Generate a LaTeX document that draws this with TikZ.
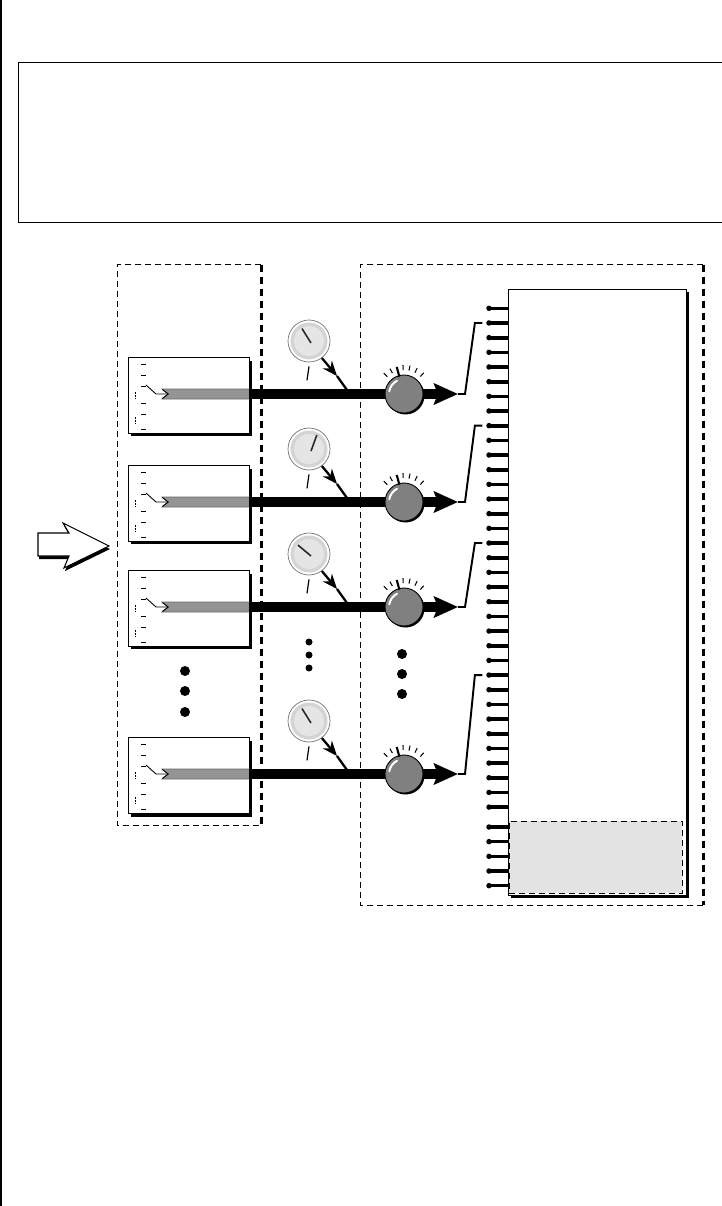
\documentclass[tikz,border=0pt]{standalone}
\usepackage{tikz}
\usetikzlibrary{arrows.meta,shadows}

\begin{document}
\begin{tikzpicture}[
  x=0.02cm, y=-0.02cm,
  plainbox/.style={draw, rectangle, inner sep=0pt, line width=0.5pt},
  thindash/.style={line width=0.5pt, dash pattern=on 0.12cm off 0.08cm},
  dashbox/.style={draw, rectangle, inner sep=0pt, thindash},
  groupbox/.style={rectangle, inner sep=0pt},
  heavydash/.style={line width=1.4pt, dash pattern=on 0.14cm off 0.1cm},
  shadowbox/.style={plainbox, fill=white, drop shadow={shadow xshift=0.06cm, shadow yshift=-0.06cm, opacity=1, fill=black}},
  inbox/.style={shadowbox, minimum width=2.42cm, minimum height=1.52cm},
  dial/.style={draw=black!55, circle, inner sep=0pt, fill=white, line width=0.4pt, minimum size=0.84cm},
  knob/.style={draw, circle, inner sep=0pt, fill=black!50, line width=0.5pt, minimum size=0.76cm},
  blob/.style={fill, circle, inner sep=0pt},
  pindot/.style={blob, minimum size=0.11cm},
  mainbar/.style={line width=0.2cm},
  lever/.style={line width=1.3pt},
  bracket/.style={line width=1.1pt},
  rung/.style={line width=0.5pt},
  graybar/.style={fill=black!42, draw=black!58, line width=0.4pt}
]
\useasboundingbox (0,0) rectangle (722,1206);

\draw[line width=0.04cm] (1,0) -- (1,1206);
\node[plainbox, minimum width=14.08cm, minimum height=3.2cm] (note) at (370,142) {};

\node[groupbox, minimum width=2.86cm, minimum height=11.2cm] (bank) at (189.5,545) {};
\draw[thindash] (bank.north east) -- (bank.north west) -- (bank.south west) -- (bank.south east);
\draw[heavydash] (bank.north east) -- (bank.south east);
\node[groupbox, minimum width=6.84cm, minimum height=12.8cm] (engine) at (532,585) {};
\draw[thindash] (engine.north east) -- (engine.north west) -- (engine.south west) -- (engine.south east);
\draw[heavydash] (engine.north east) -- (engine.south east);

% output pins
\foreach \i in {0,...,39} {
  \pgfmathsetmacro{\pinY}{\i<35 ? 308.3+14.67*\i : 827+14.67*(\i-35)}
  \pgfmathsetmacro{\pinW}{mod(\i,3)==2 ? 0.085 : 0.065}
  \node[pindot] (pin\i) at (489,\pinY) {};
  \draw[line width=\pinW cm] (pin\i.center) -- (508,\pinY);
}
\node[shadowbox, minimum width=3.56cm, minimum height=12.12cm] (outs) at (597,592) {};
\node[dashbox, fill=black!11, minimum width=3.46cm, minimum height=1.44cm] (spare) at (595.5,857) {};

% one channel per row
\foreach \n/\y/\a/\p in {1/394/122/1, 2/502/70/8, 3/607/140/16, 4/774/122/25} {
  \node[inbox] (in\n) at (188.5,\y+1.5) {};
  \foreach \t in {-30,-19,-8,9,20,35}
    \draw[rung] (141,\y+\t) -- ++(5,0);
  \draw[rung, dash pattern=on 1pt off 0.6pt] (135,\y-2) -- ++(0,6);
  \draw[rung, dash pattern=on 1pt off 0.6pt] (135,\y+23) -- ++(0,6);
  \coordinate (tip\n) at (458,\y);

  \node[dial] (dial\n) at (309,\y-53) {};
  \fill[black!17] (dial\n.center) circle[radius=0.37cm];
  \fill[black!10] (dial\n.center) circle[radius=0.3cm];
  \coordinate (hub\n) at (311,\y-51);
  \draw[line width=0.9pt, black!85] (hub\n) -- ++(\a:0.34cm);

  \draw[line width=0.7pt] ([yshift=-0.08cm]dial\n.south) -- ++(-0.04cm,-0.28cm);
  \coordinate (lev\n) at (337,\y-18);
  \draw[lever, -{Stealth[length=0.3cm,width=0.24cm]}] (dial\n.-53) -- (lev\n);
  \draw[lever] (lev\n) -- (347,\y-4);

  \draw[graybar] (162,\y-5) -- (in\n.east |- 0,\y-5) -- (in\n.east |- 0,\y+5) -- (162,\y+5) -- (168,\y) -- cycle;
  \draw[rung, -{Straight Barb[length=0.12cm,width=0.18cm]}] (146,\y-9) -- (156,\y) -- (169,\y);
  \draw[mainbar, -{Stealth[length=0.48cm,width=0.42cm,inset=0.08cm]}] (in\n.east |- tip\n) -- (tip\n);

  \node[knob, fill=black, draw=none] (back\n) at (405.5,\y+1.5) {};
  \node[knob] (knob\n) at (404,\y) {};
  \draw[white, line width=1.1pt, line cap=round] ([shift={(170:0.3cm)}]knob\n.center) arc[start angle=170, end angle=118, radius=0.3cm];
  \foreach \g in {47,63,78,92,119,134}
    \draw[line width=0.6pt] ([shift={(\g:0.48cm)}]knob\n.center) -- ([shift={(\g:0.58cm)}]knob\n.center);
  \draw[line width=1.2pt] ([shift={(105:0.36cm)}]knob\n.center) -- ([shift={(105:0.56cm)}]knob\n.center);

  \draw[bracket] (tip\n) -- ++(7,0) -- ([xshift=-0.22cm]pin\p.west) -- ([xshift=-0.07cm]pin\p.west);
}

% ellipses between the channels
\foreach \k/\X/\Y/\s in {a/185/671/0.2, b/185/691/0.2, c/185/712/0.2, d/309/642/0.14, e/309/655/0.14, f/309/668/0.14, g/402/654/0.2, h/402/674/0.2, i/402/694/0.2}
  \node[blob, minimum size=\s cm] (gap\k) at (\X,\Y) {};

% input arrow
\fill[shift={(1,3)}] (38,533) -- (69,533) -- (63,523) -- (109,546) -- (64,568) -- (69,556) -- (38,556) -- cycle;
\draw[fill=white, line width=0.6pt] (38,533) -- (69,533) -- (63,523) -- (109,546) -- (64,568) -- (69,556) -- (38,556) -- cycle;
\end{tikzpicture}
\end{document}
